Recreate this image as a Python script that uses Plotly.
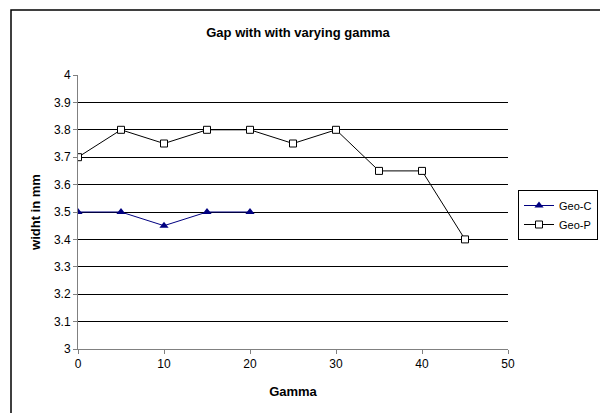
import plotly.graph_objects as go

geo_c_x = [0, 5, 10, 15, 20]
geo_c_y = [3.5, 3.5, 3.45, 3.5, 3.5]
geo_p_x = [0, 5, 10, 15, 20, 25, 30, 35, 40, 45]
geo_p_y = [3.7, 3.8, 3.75, 3.8, 3.8, 3.75, 3.8, 3.65, 3.65, 3.4]

FONT = "Liberation Sans, Arial, sans-serif"

fig = go.Figure()
fig.add_trace(go.Scatter(
    x=geo_c_x, y=geo_c_y, name="Geo-C", mode="lines+markers",
    line=dict(color="#000080", width=1),
    marker=dict(symbol="triangle-up", size=8, color="#000080"),
))
fig.add_trace(go.Scatter(
    x=geo_p_x, y=geo_p_y, name="Geo-P", mode="lines+markers",
    line=dict(color="black", width=1),
    marker=dict(symbol="square", size=7, color="white", line=dict(color="black", width=1)),
))

L, R, T, B = 78, 92, 75, 64
W, H = 600, 413
pw, ph = W - L - R, H - T - B

def px_x(p):
    return (p - L) / pw

def px_y(p):
    return (H - B - p) / ph

fig.add_shape(type="rect", xref="paper", yref="paper",
              x0=px_x(11), x1=px_x(620), y0=px_y(430), y1=px_y(10),
              line=dict(color="black", width=1.5), layer="below")

fig.update_layout(
    width=W, height=H,
    margin=dict(l=L, r=R, t=T, b=B, autoexpand=False),
    paper_bgcolor="white", plot_bgcolor="white",
    font=dict(family=FONT, size=11, color="black"),
    title=dict(text="<b>Gap with with varying gamma</b>", x=298 / W, xanchor="center",
               y=1 - 32 / H, yanchor="middle", font=dict(size=13, family=FONT)),
    showlegend=True,
    legend=dict(x=px_x(518), y=px_y(190), xanchor="left", yanchor="top",
                bordercolor="black", borderwidth=1, bgcolor="white",
                font=dict(size=11, family=FONT), itemwidth=30,
                tracegroupgap=0),
)
fig.update_xaxes(
    range=[0, 50], tickvals=[0, 10, 20, 30, 40, 50],
    showgrid=False, zeroline=False,
    showline=True, linecolor="#808080", linewidth=1,
    ticks="outside", ticklen=4, tickcolor="#808080",
    tickfont=dict(size=12),
    title=dict(text="<b>Gamma</b>", font=dict(size=13, family=FONT), standoff=16),
)
fig.update_yaxes(
    range=[3, 4], dtick=0.1, tickformat="~g",
    showgrid=True, gridcolor="black", gridwidth=1, zeroline=False,
    showline=True, linecolor="#808080", linewidth=1,
    ticks="outside", ticklen=4, tickcolor="#808080",
    tickfont=dict(size=12),
    title=dict(text="<b>widht in mm</b>", font=dict(size=13, family=FONT), standoff=10),
)

fig.write_html("out.html")
